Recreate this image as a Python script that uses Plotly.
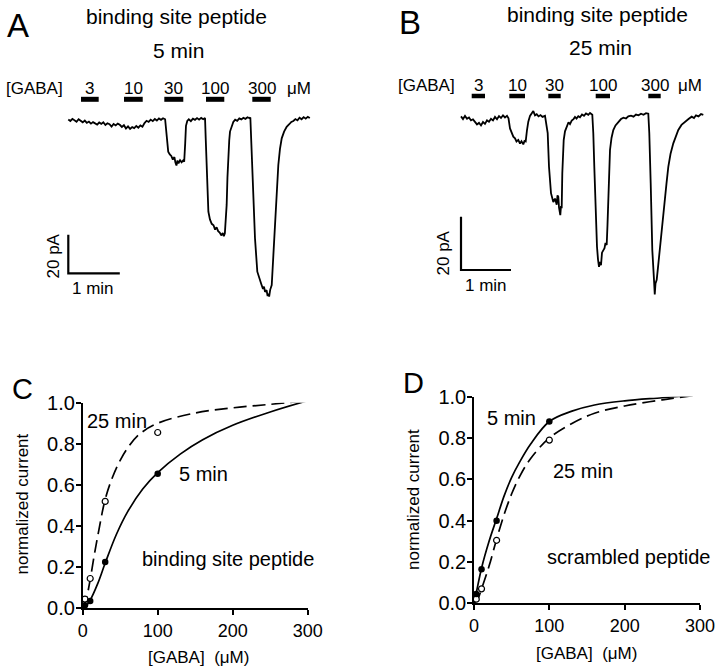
import plotly.graph_objects as go

W, H = 720, 670
FONT = "Liberation Sans, Arial, Helvetica, sans-serif"

# ---------------- data ----------------
conc = [3, 10, 30, 100, 300]
conc_labels = ["3", "10", "30", "100", "300"]

# GABA application periods (min) for traces A and B
appA_start = [0.247, 1.082, 1.864, 2.674, 3.573]
appA_end = [0.590, 1.445, 2.233, 3.029, 3.930]
appB_start = [0.214, 0.966, 1.746, 2.694, 3.746]
appB_end = [0.480, 1.280, 1.994, 2.980, 3.994]

# current trace A (binding site peptide, 5 min): time (min), current (pA)
tA = [0.00, 0.04, 0.08, 0.12, 0.16, 0.20, 0.24, 0.28, 0.32, 0.36, 0.40, 0.44, 0.48, 0.52, 0.56,
      0.60, 0.64, 0.68, 0.72, 0.76, 0.80, 0.84, 0.88, 0.92, 0.96, 1.00, 1.04, 1.08, 1.12, 1.16,
      1.20, 1.24, 1.28, 1.32, 1.36, 1.40, 1.44, 1.48, 1.52, 1.56, 1.60, 1.64, 1.68, 1.72, 1.76,
      1.80, 1.84, 1.88,
      1.91, 1.94, 1.97, 2.00, 2.03, 2.06, 2.08, 2.10, 2.12, 2.14, 2.17, 2.20, 2.23, 2.25, 2.27,
      2.285, 2.31, 2.34, 2.38, 2.42, 2.46, 2.50, 2.54, 2.58, 2.62, 2.655,
      2.668, 2.687, 2.72, 2.75, 2.785, 2.82, 2.85, 2.88, 2.91, 2.94, 2.97, 3.00, 3.02, 3.04, 3.06,
      3.075, 3.09, 3.107, 3.125, 3.14, 3.17, 3.204, 3.24, 3.28, 3.32, 3.36, 3.40, 3.44, 3.48,
      3.52, 3.535,
      3.548, 3.58, 3.625, 3.67, 3.70, 3.722, 3.75, 3.78, 3.80, 3.82, 3.85, 3.87, 3.883, 3.90,
      3.92, 3.95, 3.98, 4.01, 4.033, 4.055, 4.078, 4.11, 4.144, 4.19, 4.24, 4.29, 4.33, 4.37,
      4.41, 4.45, 4.49, 4.53, 4.57, 4.61, 4.65, 4.69]
iA = [0.3, -0.5, 0.6, -0.2, -0.9, 0.4, -0.6, -1.2, -0.3, -1.5, -0.8, -1.9, -1.1, -1.6, -2.4,
      -1.3, -2.0, -1.2, -2.6, -1.7, -2.2, -3.4, -2.1, -2.8, -1.9, -2.5, -3.6, -2.7, -4.4, -3.3,
      -4.6, -3.7, -4.2, -3.1, -4.0, -2.8, -3.5, -1.6, -0.4, -1.0, 0.2, -0.6, 0.5, -0.3, 0.8,
      0.1, 0.9, 0.4,
      -7.8, -16.4, -17.8, -18.6, -20.5, -19.2, -22.0, -23.6, -21.0, -22.5, -20.8, -21.9, -20.9,
      -21.6, -12.0,
      -3.0, -0.5, 0.4, -0.6, 0.7, 0.1, 1.0, 0.2, 1.1, 0.4, 1.0,
      -9.3, -26.8, -47.5, -51.5, -53.8, -54.5, -56.8, -55.6, -57.6, -58.3, -59.8, -58.5, -60.2,
      -58.7, -52.0,
      -44.0, -30.0, -18.1, -10.5, -6.0, -3.0, -1.0, 0.2, -0.4, 0.8, 0.3, 1.1, 0.6, 1.4,
      0.9, 1.3,
      -9.3, -35.1, -61.3, -78.6, -81.5, -83.8, -85.2, -87.5, -86.4, -89.0, -88.2, -91.2, -90.0,
      -91.5, -88.0, -85.5, -70.0, -55.0, -44.0, -32.0, -23.3, -15.0, -9.5, -6.0, -3.5, -2.2,
      -1.0, -0.5, 0.5, -0.2, 1.2, 0.4, 1.5, 0.7, 1.6, 1.0]

# current trace B (binding site peptide, 25 min)
tB = [0.00, 0.04, 0.08, 0.12, 0.16, 0.20, 0.24, 0.28, 0.32, 0.36, 0.40, 0.44, 0.48, 0.52,
      0.56, 0.60, 0.64, 0.68, 0.72, 0.76, 0.80, 0.84, 0.88, 0.92, 0.95,
      0.98, 1.01, 1.046, 1.08, 1.11, 1.146, 1.18, 1.21, 1.246, 1.27, 1.294, 1.32, 1.346, 1.38,
      1.41, 1.446, 1.48, 1.514, 1.55, 1.59, 1.63, 1.68,
      1.734, 1.76, 1.80, 1.83, 1.846, 1.88, 1.914, 1.93, 1.946, 1.96, 1.975, 1.986, 2.00, 2.014,
      2.026, 2.054, 2.08, 2.114, 2.15, 2.18, 2.214, 2.25, 2.28, 2.31, 2.346, 2.38, 2.42, 2.46,
      2.50, 2.546, 2.58, 2.626,
      2.646, 2.666, 2.694, 2.72, 2.74, 2.76, 2.78, 2.80, 2.82, 2.846, 2.87, 2.89, 2.914, 2.93,
      2.946, 2.96, 2.98, 3.01, 3.046, 3.09, 3.146, 3.20, 3.25, 3.30, 3.346, 3.40, 3.45, 3.50,
      3.55, 3.60, 3.65, 3.70, 3.746,
      3.766, 3.794, 3.826, 3.86, 3.875, 3.89, 3.914, 3.94, 3.96, 3.99, 4.014, 4.05, 4.08, 4.11,
      4.146, 4.19, 4.246, 4.30, 4.346, 4.41, 4.48, 4.55, 4.614, 4.66, 4.70, 4.75, 4.80, 4.846]
iB = [0.6, -0.4, 0.8, -0.3, 0.2, -0.9, -0.5, -1.6, -2.4, -1.8, -2.8, -1.5, -2.2, -0.9,
      -1.4, -0.3, -0.9, 0.4, -0.5, 0.7, 0.0, 1.0, 0.2, 0.8, -0.1,
      -3.9, -5.5, -7.0, -7.6, -8.8, -8.2, -9.6, -8.7, -9.9, -8.6, -8.8, -4.5, -1.4, 0.8,
      1.5, 2.6, 1.0, 1.4, 0.6, 1.1, 0.4, 0.8,
      -5.7, -18.3, -28.2, -30.0, -31.5, -30.2, -32.5, -29.0, -29.5, -33.5, -35.0, -36.4, -33.0,
      -33.8, -20.7, -8.25, -5.0, -3.6, -1.6, -2.3, -1.0, -0.4, 0.4, -0.2, 0.7, 0.3, 1.3, 0.8,
      1.7, 1.2, 1.9, 1.2,
      -5.7, -18.3, -37.0, -48.3, -53.0, -55.8, -54.0, -55.2, -50.5, -49.5, -48.8, -46.8, -47.6,
      -40.0, -30.7, -21.0, -12.0, -7.5, -4.5, -2.8, -1.4, -0.4, 0.1, -0.2, 0.6, 0.9, 0.5, 1.3,
      1.0, 1.6, 1.2, 1.8, 1.6,
      -5.7, -24.5, -49.5, -60.7, -66.2, -62.0, -60.7, -56.0, -52.0, -48.0, -43.2, -36.0, -30.7,
      -24.5, -18.3, -13.5, -9.5, -6.5, -4.5, -2.6, -1.4, -0.4, 0.5, 0.0, 1.0, 0.6, 1.5, 1.2]

# dose-response, panel C (binding site peptide)
C_5min = [0.015, 0.035, 0.225, 0.655, 1.01]
C_25min = [0.045, 0.145, 0.52, 0.855, 1.01]
# fitted curves
C_fit5_x = [0, 3, 10, 20, 30, 45, 60, 80, 100, 130, 160, 200, 250, 300]
C_fit5_y = [0, 0.005, 0.04, 0.12, 0.22, 0.36, 0.47, 0.58, 0.66, 0.75, 0.82, 0.89, 0.955, 1.01]
C_fit25_x = [0, 5, 10, 15, 20, 30, 40, 50, 60, 75, 100, 150, 200, 250, 300]
C_fit25_y = [0, 0.05, 0.14, 0.25, 0.35, 0.53, 0.64, 0.72, 0.78, 0.845, 0.9, 0.95, 0.975, 0.992, 1.01]

# dose-response, panel D (scrambled peptide)
D_5min = [0.045, 0.165, 0.40, 0.88, 1.01]
D_25min = [0.02, 0.07, 0.305, 0.79, 1.01]
D_fit5_x = [0, 3, 10, 20, 30, 40, 50, 60, 75, 100, 130, 160, 200, 250, 300]
D_fit5_y = [0, 0.05, 0.17, 0.30, 0.41, 0.52, 0.61, 0.68, 0.77, 0.88, 0.93, 0.96, 0.98, 0.995, 1.01]
D_fit25_x = [0, 5, 10, 20, 30, 40, 50, 60, 75, 100, 130, 160, 200, 250, 300]
D_fit25_y = [0, 0.02, 0.07, 0.18, 0.31, 0.43, 0.53, 0.61, 0.70, 0.80, 0.87, 0.92, 0.955, 0.985, 1.01]

x_ticks = [0, 100, 200, 300]
y_ticks = [0, 0.2, 0.4, 0.6, 0.8, 1.0]


# ---------------- helpers ----------------
def px(x):
    return x / W


def py(y):
    return 1 - y / H


fig = go.Figure()

# ---- traces A and B ----
fig.add_trace(go.Scatter(x=tA, y=iA, mode="lines", line=dict(color="black", width=1.8),
                         xaxis="x", yaxis="y", hoverinfo="skip"))
fig.add_trace(go.Scatter(x=tB, y=iB, mode="lines", line=dict(color="black", width=1.8),
                         xaxis="x2", yaxis="y2", hoverinfo="skip"))

# scale bars (1 min, 20 pA)
barA = dict(t0=0.0, i0=-79.5)
barB = dict(t0=0.0, i0=-57.0)
for (b, xa, ya) in [(barA, "x", "y"), (barB, "x2", "y2")]:
    fig.add_trace(go.Scatter(x=[b["t0"], b["t0"], b["t0"] + 1.0],
                             y=[b["i0"] + 20.0, b["i0"], b["i0"]],
                             mode="lines", line=dict(color="black", width=2.2),
                             xaxis=xa, yaxis=ya, hoverinfo="skip"))

# ---- dose-response C ----
fig.add_trace(go.Scatter(x=C_fit25_x, y=C_fit25_y, mode="lines", line_shape="spline",
                         line=dict(color="black", width=1.7, dash="13px,6px"),
                         xaxis="x3", yaxis="y3", hoverinfo="skip"))
fig.add_trace(go.Scatter(x=C_fit5_x, y=C_fit5_y, mode="lines", line_shape="spline",
                         line=dict(color="black", width=1.7),
                         xaxis="x3", yaxis="y3", hoverinfo="skip"))
fig.add_trace(go.Scatter(x=conc, y=C_25min, mode="markers", cliponaxis=False,
                         marker=dict(size=6, color="white", line=dict(color="black", width=1.2)),
                         xaxis="x3", yaxis="y3", hoverinfo="skip"))
fig.add_trace(go.Scatter(x=conc, y=C_5min, mode="markers", cliponaxis=False,
                         marker=dict(size=6.5, color="black"),
                         xaxis="x3", yaxis="y3", hoverinfo="skip"))

# ---- dose-response D ----
fig.add_trace(go.Scatter(x=D_fit25_x, y=D_fit25_y, mode="lines", line_shape="spline",
                         line=dict(color="black", width=1.7, dash="13px,6px"),
                         xaxis="x4", yaxis="y4", hoverinfo="skip"))
fig.add_trace(go.Scatter(x=D_fit5_x, y=D_fit5_y, mode="lines", line_shape="spline",
                         line=dict(color="black", width=1.7),
                         xaxis="x4", yaxis="y4", hoverinfo="skip"))
fig.add_trace(go.Scatter(x=conc, y=D_25min, mode="markers", cliponaxis=False,
                         marker=dict(size=6, color="white", line=dict(color="black", width=1.2)),
                         xaxis="x4", yaxis="y4", hoverinfo="skip"))
fig.add_trace(go.Scatter(x=conc, y=D_5min, mode="markers", cliponaxis=False,
                         marker=dict(size=6.5, color="black"),
                         xaxis="x4", yaxis="y4", hoverinfo="skip"))

hidden = dict(visible=False, fixedrange=True, automargin=False)
dr_x = dict(range=[0, 300], tickvals=x_ticks, ticks="outside", ticklen=5, tickwidth=1.6,
            tickcolor="black", showline=True, linecolor="black", linewidth=1.6,
            showgrid=False, zeroline=False, fixedrange=True, automargin=False,
            tickfont=dict(family=FONT, size=18, color="black"))
dr_y = dict(range=[0, 1], tickvals=y_ticks, tickformat=".1f", ticks="outside", ticklen=5,
            tickwidth=1.6, tickcolor="black", showline=True, linecolor="black", linewidth=1.6,
            showgrid=False, zeroline=False, fixedrange=True, automargin=False,
            ticklabelstandoff=-3, tickfont=dict(family=FONT, size=20, color="black"))

fig.update_layout(
    template="none",
    width=W, height=H, margin=dict(l=0, r=0, t=0, b=0, pad=0, autoexpand=False),
    paper_bgcolor="white", plot_bgcolor="rgba(0,0,0,0)", showlegend=False,
    font=dict(family=FONT, color="black"),
    # trace A: 51.5 px/min, 1.93 px/pA
    xaxis=dict(domain=[0, 0.5], range=[-68.3 / 51.5, (360 - 68.3) / 51.5], anchor="y", **hidden),
    yaxis=dict(domain=[py(310), 1], range=[(120 - 310) / 1.93, 120 / 1.93], anchor="x", **hidden),
    # trace B: 50 px/min, 2.667 px/pA
    xaxis2=dict(domain=[0.5, 1], range=[(360 - 461) / 50, (720 - 461) / 50], anchor="y2", **hidden),
    yaxis2=dict(domain=[py(310), 1], range=[(118 - 310) / 2.667, 118 / 2.667], anchor="x2", **hidden),
    xaxis3=dict(domain=[px(82.7), px(307.7)], anchor="y3", **dr_x),
    yaxis3=dict(domain=[py(608.3), py(402.7)], anchor="x3", **dr_y),
    xaxis4=dict(domain=[px(474), px(700)], anchor="y4", **dr_x),
    yaxis4=dict(domain=[py(603.3), py(396.7)], anchor="x4", **dr_y),
)

# GABA application bars
shapes = []
for s, e in zip(appA_start, appA_end):
    shapes.append(dict(type="line", xref="x", yref="paper", x0=s, x1=e, y0=py(99.3), y1=py(99.3),
                       line=dict(color="black", width=5)))
for s, e in zip(appB_start, appB_end):
    shapes.append(dict(type="line", xref="x2", yref="paper", x0=s, x1=e, y0=py(96), y1=py(96),
                       line=dict(color="black", width=4.5)))
fig.update_layout(shapes=shapes)

ann = []


def txt(text, x, y, size, xref="paper", angle=0):
    ann.append(dict(text=text, x=x if xref != "paper" else px(x), y=py(y), xref=xref, yref="paper",
                    showarrow=False, xanchor="center", yanchor="middle", textangle=angle,
                    font=dict(family=FONT, size=size, color="black")))


# panel letters
txt("A", 18, 26, 33)
txt("B", 410, 23, 33)
txt("C", 22.5, 389, 29)
txt("D", 414, 383, 29)

# titles
txt("binding site peptide", 176, 17, 21)
txt("5 min", 178, 51, 21)
txt("binding site peptide", 597, 15, 21)
txt("25 min", 600, 47, 21)

# GABA label rows
txt("[GABA]", 34, 88, 17)
txt("μM", 299, 88, 17)
txt("[GABA]", 426, 85, 17)
txt("μM", 690, 85, 17)
for lab, s, e in zip(conc_labels, appA_start, appA_end):
    txt(lab, (s + e) / 2, 88, 17, xref="x")
for lab, s, e in zip(conc_labels, appB_start, appB_end):
    txt(lab, (s + e) / 2, 85, 17, xref="x2")

# scale bar labels
txt("20 pA", 53.5, 256, 17, angle=-90)
txt("1 min", 93, 288, 17)
txt("20 pA", 443.5, 253, 17, angle=-90)
txt("1 min", 486, 285, 17)

# dose-response annotations
txt("25 min", 116.7, 421, 20)
txt("5 min", 203, 474, 20)
txt("binding site peptide", 228, 559, 20)
txt("5 min", 511.5, 418, 20)
txt("25 min", 582.5, 471, 20)
txt("scrambled peptide", 628, 556.5, 20)

# axis titles
txt("normalized current", 21.5, 504, 17, angle=-90)
txt("[GABA]  (μM)", 198, 657, 17)
txt("normalized current", 413, 500, 17, angle=-90)
txt("[GABA]  (μM)", 586, 653, 17)

fig.update_layout(annotations=ann)

fig.write_html("out.html", config={"displayModeBar": False},
               post_script="document.body.style.margin='0px';")
